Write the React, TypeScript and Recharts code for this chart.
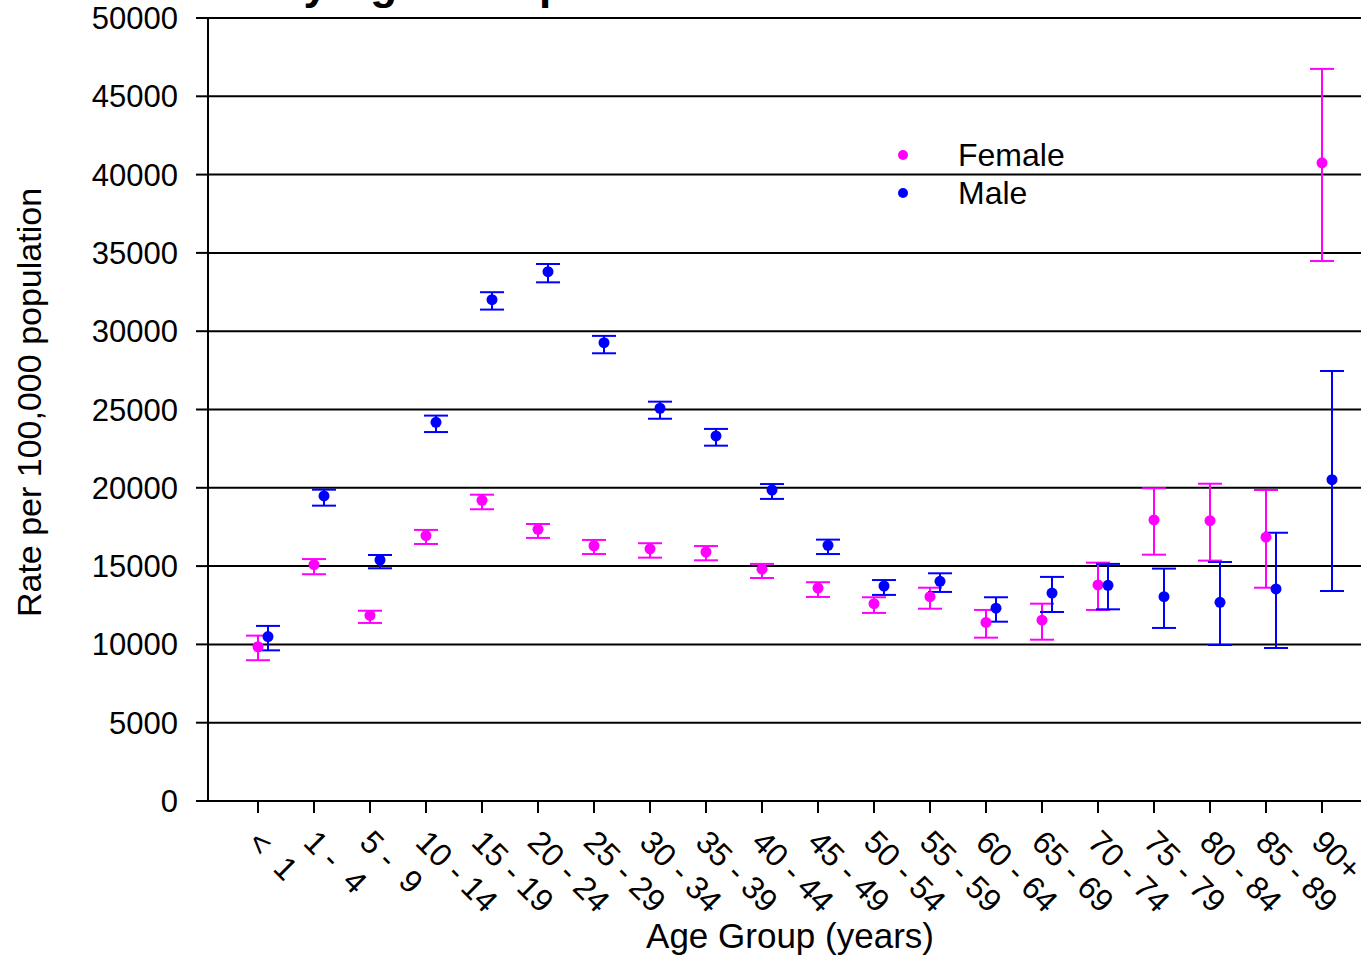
import {
  ScatterChart,
  Scatter,
  XAxis,
  YAxis,
  CartesianGrid,
  ErrorBar,
  Legend,
  Label,
} from "recharts";

const ageGroups = [
  "<  1", "1 -  4", "5 -  9", "10 - 14", "15 - 19", "20 - 24", "25 - 29",
  "30 - 34", "35 - 39", "40 - 44", "45 - 49", "50 - 54", "55 - 59",
  "60 - 64", "65 - 69", "70 - 74", "75 - 79", "80 - 84", "85 - 89", "90+",
];

const femaleRate = [9850, 15100, 11850, 16950, 19200, 17350, 16300, 16100, 15900, 14800, 13600, 12600, 13050, 11400, 11550, 13800, 17950, 17900, 16850, 40750];
const femaleLow = [8990, 14480, 11370, 16410, 18630, 16800, 15770, 15540, 15370, 14240, 13030, 12010, 12280, 10430, 10300, 12200, 15730, 15350, 13620, 34480];
const femaleHigh = [10560, 15450, 12150, 17310, 19560, 17690, 16670, 16460, 16280, 15140, 13970, 13010, 13620, 12200, 12600, 15220, 19970, 20260, 19860, 46750];

const maleRate = [10500, 19480, 15390, 24180, 32010, 33800, 29270, 25080, 23310, 19860, 16330, 13730, 14030, 12310, 13280, 13770, 13050, 12690, 13540, 20520];
const maleLow = [9620, 18860, 14860, 23560, 31380, 33120, 28590, 24410, 22690, 19290, 15770, 13160, 13350, 11450, 12070, 12240, 11050, 9960, 9770, 13410];
const maleHigh = [11180, 19880, 15710, 24610, 32490, 34290, 29700, 25500, 23760, 20240, 16690, 14110, 14540, 13010, 14310, 15140, 14840, 15260, 17130, 27460];

const yTicks = [0, 5000, 10000, 15000, 20000, 25000, 30000, 35000, 40000, 45000, 50000];
const xTicks = ageGroups.map((_, i) => i);

const FONT = '"Liberation Sans", Arial, Helvetica, sans-serif';
const FEMALE = "#FF00FF";
const MALE = "#0000FF";

function buildSeries(rate: number[], low: number[], high: number[]) {
  return rate.map((v, i) => ({ x: i, y: v, err: [v - low[i], high[i] - v] }));
}

const femaleData = buildSeries(femaleRate, femaleLow, femaleHigh);
const maleData = buildSeries(maleRate, maleLow, maleHigh);

// eslint-disable-next-line @typescript-eslint/no-explicit-any
const AgeTick = ({ x, y, payload }: any) => (
  <g transform={`translate(${x - 12},${y + 31}) rotate(45)`}>
    <text x={0} y={0} fontSize={32} fontFamily={FONT} fill="#000" style={{ whiteSpace: "pre" }}>
      {ageGroups[payload.value]}
    </text>
  </g>
);

// eslint-disable-next-line @typescript-eslint/no-explicit-any
const Dot = (color: string) => ({ cx, cy }: any) => (
  <circle cx={cx} cy={cy} r={5.5} fill={color} />
);

// eslint-disable-next-line @typescript-eslint/no-explicit-any
const YTitle = ({ viewBox }: any) => {
  const cx = viewBox.x + 41;
  const cy = viewBox.y + viewBox.height / 2 - 7;
  return (
    <text
      x={cx}
      y={cy}
      transform={`rotate(-90 ${cx} ${cy})`}
      textAnchor="middle"
      fontSize={34}
      fontFamily={FONT}
      fill="#000"
    >
      Rate per 100,000 population
    </text>
  );
};

// eslint-disable-next-line @typescript-eslint/no-explicit-any
const LegendBox = ({ payload }: any) => (
  <svg width={220} height={80}>
    {(payload || []).map((p: any, i: number) => (
      <g key={p.value}>
        <circle cx={13} cy={19 + i * 38} r={5} fill={p.color} />
        <text x={68} y={19 + i * 38 + 11} fontSize={32} fontFamily={FONT} fill="#000">
          {p.value}
        </text>
      </g>
    ))}
  </svg>
);

export default function App() {
  return (
    <div
      style={{
        position: "absolute",
        left: 0,
        top: 0,
        width: 1361,
        height: 960,
        overflow: "hidden",
        background: "#fff",
        fontFamily: FONT,
      }}
    >
      <div
        style={{
          position: "absolute",
          left: 169,
          top: -38,
          fontSize: 44,
          lineHeight: "44px",
          fontWeight: "bold",
          whiteSpace: "nowrap",
          color: "#000",
        }}
      >
        Rate by Age Group and Sex
      </div>
      <ScatterChart
        width={1400}
        height={960}
        margin={{ top: 18, right: 28, bottom: 0, left: 0 }}
      >
        <CartesianGrid vertical={false} stroke="#000" strokeWidth={2} />
        <XAxis
          dataKey="x"
          type="number"
          domain={[0, 19]}
          ticks={xTicks}
          interval={0}
          padding={{ left: 50, right: 50 }}
          height={159}
          tickSize={12}
          tickMargin={0}
          tick={<AgeTick />}
          axisLine={{ stroke: "#000", strokeWidth: 2 }}
          tickLine={{ stroke: "#000", strokeWidth: 2 }}
        >
          <Label
            value="Age Group (years)"
            position="insideBottom"
            offset={12}
            style={{ fontSize: 35, fontFamily: FONT, fill: "#000" }}
          />
        </XAxis>
        <XAxis
          xAxisId="m"
          dataKey="x"
          type="number"
          domain={[0, 19]}
          padding={{ left: 60, right: 40 }}
          hide
        />
        <YAxis
          dataKey="y"
          type="number"
          domain={[0, 50000]}
          ticks={yTicks}
          interval={0}
          width={208}
          tickSize={12}
          tickMargin={18}
          tick={{ fontSize: 31, fontFamily: FONT, fill: "#000" }}
          axisLine={{ stroke: "#000", strokeWidth: 2 }}
          tickLine={{ stroke: "#000", strokeWidth: 2 }}
        >
          <Label content={<YTitle />} />
        </YAxis>
        <Legend
          layout="vertical"
          align="center"
          verticalAlign="middle"
          wrapperStyle={{ position: "absolute", left: 890, top: 136, width: 220 }}
          content={<LegendBox />}
        />
        <Scatter
          name="Female"
          data={femaleData}
          fill={FEMALE}
          shape={Dot(FEMALE)}
          isAnimationActive={false}
        >
          <ErrorBar dataKey="err" direction="y" width={12} stroke={FEMALE} strokeWidth={2} />
        </Scatter>
        <Scatter
          name="Male"
          xAxisId="m"
          data={maleData}
          fill={MALE}
          shape={Dot(MALE)}
          isAnimationActive={false}
        >
          <ErrorBar dataKey="err" direction="y" width={12} stroke={MALE} strokeWidth={2} />
        </Scatter>
      </ScatterChart>
    </div>
  );
}
